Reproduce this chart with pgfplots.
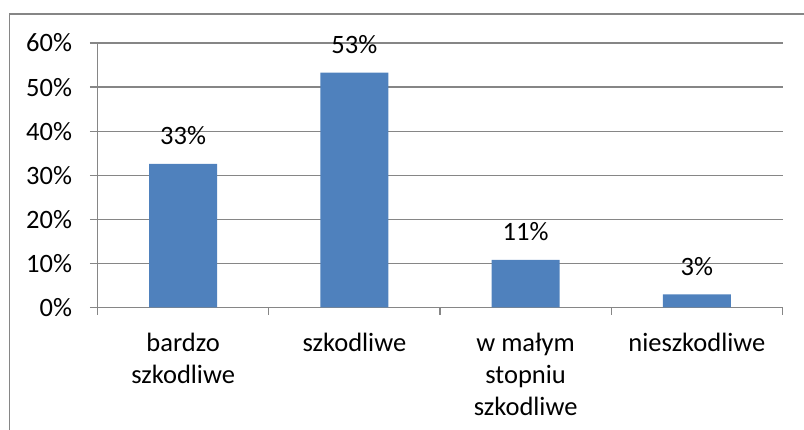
\documentclass[border=0pt]{standalone}
\usepackage{pgfplots}
\pgfplotsset{compat=1.18}
\usepackage{fontspec}
\setmainfont{Carlito}
\definecolor{barblue}{HTML}{4F81BD}
\definecolor{gridgray}{HTML}{868686}
\pgfplotstableread{
x y lab
0 32.6 33\%
1 53.3 53\%
2 10.8 11\%
3 3.0 3\%
}\datatable
\begin{document}
\fontsize{26.5}{32}\selectfont
\begin{tikzpicture}[x=1pt,y=1pt]
\useasboundingbox (0,0) rectangle (804,430);
\draw[gridgray, line width=1.3pt] (9.5,-5) -- (9.5,416) -- (810,416);
\begin{axis}[
  at={(97.5pt,122.5pt)}, anchor=south west,
  scale only axis, width=685pt, height=264.5pt,
  xmin=-0.5, xmax=3.5, ymin=0, ymax=60,
  axis x line*=bottom, axis y line*=left,
  axis line style={gridgray, line width=1.3pt},
  ytick={0,10,20,30,40,50,60},
  yticklabels={0\%,10\%,20\%,30\%,40\%,50\%,60\%},
  xtick={0,1,2,3},
  xticklabels={bardzo\\szkodliwe, szkodliwe, w małym\\stopniu\\szkodliwe, nieszkodliwe},
  minor xtick={-0.5,0.5,1.5,2.5,3.5},
  tick align=outside,
  major tick length=7.5pt, minor tick length=7.5pt,
  major x tick style={draw=none},
  minor x tick style={gridgray, line width=1.3pt},
  y tick style={gridgray, line width=1.3pt},
  ymajorgrids, grid style={gridgray, line width=1.3pt},
  tick label style={font=\fontsize{26.5}{32}\selectfont, text=black},
  yticklabel style={anchor=east, xshift=-9pt},
  xticklabel style={align=center, anchor=north, yshift=-9pt},
  ybar, bar width=68pt,
  nodes near coords, point meta=explicit symbolic,
  every node near coord/.append style={font=\fontsize{26.5}{32}\selectfont, text=black, anchor=base, yshift=19pt},
  clip=false,
]
\addplot[fill=barblue, draw=none] table[x=x, y=y, meta=lab] {\datatable};
\end{axis}
\end{tikzpicture}
\end{document}
